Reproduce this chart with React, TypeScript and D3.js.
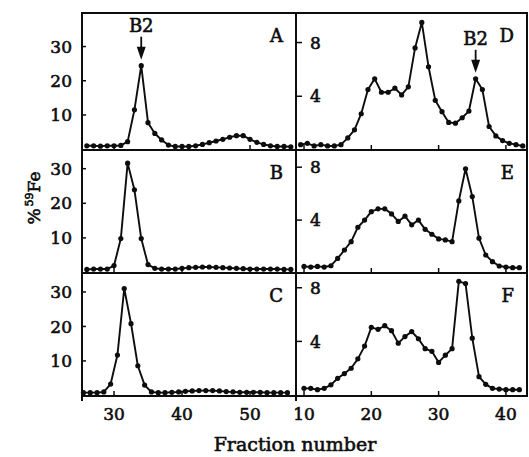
import React from 'react';
import * as d3 from 'd3';

// % 59Fe per fraction; each profile starts at the given fraction number
const startA = 26;
const valuesA = [1.0, 1.0, 0.9, 1.0, 1.0, 1.1, 2.2, 11.5, 24.4, 7.75, 4.6, 2.7, 1.2, 0.8, 0.8, 0.8,
  1.0, 1.4, 1.9, 2.4, 2.9, 3.5, 3.95, 3.95, 2.9, 2.0, 1.4, 1.0, 0.8, 0.8, 0.7];
const startB = 26;
const valuesB = [0.9, 1.0, 1.0, 1.0, 2.0, 9.8, 31.6, 23.9, 9.8, 2.3, 1.2, 1.0, 1.0, 1.0, 1.2, 1.4,
  1.5, 1.6, 1.6, 1.5, 1.4, 1.3, 1.2, 1.1, 1.0, 1.0, 1.0, 1.0, 1.0, 0.9, 0.9];
const startC = 25.5;
const valuesC = [0.8, 0.8, 0.8, 1.0, 3.3, 11.7, 31.0, 20.8, 8.6, 3.0, 1.0, 0.8, 0.8, 0.9, 1.0, 1.2,
  1.3, 1.4, 1.4, 1.4, 1.3, 1.1, 1.0, 0.9, 0.9, 0.9, 0.9, 0.8, 0.8, 0.8, 0.8];
const startD = 9.5;
const valuesD = [0.4, 0.5, 0.3, 0.4, 0.3, 0.3, 0.4, 0.9, 1.5, 2.7, 4.5, 5.3, 4.3, 4.3, 4.6, 4.1, 4.7,
  7.6, 9.5, 6.2, 3.7, 2.85, 2.05, 2.0, 2.4, 2.9, 5.3, 4.5, 1.75, 1.05, 0.7, 0.5, 0.4, 0.3];
const startE = 10;
const valuesE = [0.5, 0.45, 0.5, 0.45, 0.55, 1.1, 1.74, 2.37, 3.46, 4.0, 4.64, 4.85, 4.85, 4.47, 3.9,
  4.3, 3.64, 4.0, 3.3, 2.93, 2.58, 2.5, 2.37, 5.45, 7.88, 5.78, 2.63, 1.36, 0.86, 0.53, 0.45, 0.4, 0.4];
const startF = 10;
const valuesF = [0.5, 0.5, 0.4, 0.5, 0.76, 1.25, 1.6, 2.0, 2.7, 3.65, 5.05, 4.9, 5.17, 4.8, 3.87,
  4.36, 4.73, 4.2, 3.46, 3.26, 2.43, 2.97, 3.46, 8.48, 8.31, 4.24, 1.37, 0.8, 0.5, 0.45, 0.4, 0.4, 0.4];

const panelNames = ['A', 'B', 'C', 'D', 'E', 'F'];
const leftYTicks = [10, 20, 30];
const rightYTicks = [4, 8];
const leftXTicks = [30, 40, 50];
const rightXTicks = [10, 20, 30, 40];
const peakLabel = 'B2';
const xTitle = 'Fraction number';

const W = 529, H = 457;
const FONT = '"DejaVu Serif", serif';
const INK = '#0d0d0d';

class FractionChart extends React.Component {
  chartRef = React.createRef<HTMLDivElement>();

  componentDidMount() {
    const root = d3.select(this.chartRef.current);
    root.selectAll('*').remove();

    const svg = root.append('svg')
      .attr('width', W)
      .attr('height', H)
      .style('position', 'absolute')
      .style('left', '0px')
      .style('top', '0px')
      .style('background', '#fff');

    const cols = [82, 296, 527];
    const rows = [13, 150, 273, 396];

    const xLeft = d3.scaleLinear().domain([25.29, 56.76]).range([cols[0], cols[1]]);
    const xRight = d3.scaleLinear().domain([8.81, 43.13]).range([cols[1], cols[2]]);

    const panels = [
      { start: startA, values: valuesA, col: 0, row: 0, yDomain: [-0.23, 39.8], peak: 34 },
      { start: startB, values: valuesB, col: 0, row: 1, yDomain: [-0.14, 35.4] },
      { start: startC, values: valuesC, col: 0, row: 2, yDomain: [-0.17, 35.5] },
      { start: startD, values: valuesD, col: 1, row: 0, yDomain: [0, 10.2], peak: 35.5 },
      { start: startE, values: valuesE, col: 1, row: 1, yDomain: [0, 9.3] },
      { start: startF, values: valuesF, col: 1, row: 2, yDomain: [-0.07, 9.1] },
    ];

    // heavy print look: fill plus a thin stroke of the same ink
    const text = (sel, size) => sel
      .attr('font-family', FONT)
      .attr('font-size', size)
      .attr('fill', INK)
      .attr('stroke', INK)
      .attr('stroke-width', 0.6);

    panels.forEach((p, k) => {
      const x = p.col === 0 ? xLeft : xRight;
      const top = rows[p.row];
      const bottom = rows[p.row + 1];
      const y = d3.scaleLinear().domain(p.yDomain).range([bottom, top]);
      const pts = p.values.map((v, i) => [p.start + i, v]);
      const g = svg.append('g');

      g.append('path')
        .datum(pts)
        .attr('d', d3.line().x(d => x(d[0])).y(d => y(d[1])))
        .attr('fill', 'none')
        .attr('stroke', INK)
        .attr('stroke-width', 1.9)
        .attr('stroke-linejoin', 'round');

      g.selectAll('circle')
        .data(pts)
        .join('circle')
        .attr('cx', d => x(d[0]))
        .attr('cy', d => y(d[1]))
        .attr('r', 2.6)
        .attr('fill', INK);

      // y ticks
      const axisX = cols[p.col];
      const yTicks = p.col === 0 ? leftYTicks : rightYTicks;
      yTicks.forEach(t => {
        g.append('line')
          .attr('x1', axisX).attr('x2', axisX + (p.col === 0 ? 4 : 6))
          .attr('y1', y(t)).attr('y2', y(t))
          .attr('stroke', INK).attr('stroke-width', 1.5);
        g.append('text')
          .attr('x', p.col === 0 ? axisX - 10 : axisX + 14)
          .attr('y', y(t))
          .attr('dy', '0.36em')
          .attr('text-anchor', p.col === 0 ? 'end' : 'start')
          .text(t)
          .call(text, 17);
      });

      // x ticks along the bottom of each panel
      const xTicks = p.col === 0 ? leftXTicks : rightXTicks;
      xTicks.forEach(t => {
        g.append('line')
          .attr('x1', x(t)).attr('x2', x(t))
          .attr('y1', bottom).attr('y2', bottom - 5)
          .attr('stroke', INK).attr('stroke-width', 1.5);
      });

      g.append('text')
        .attr('x', p.col === 0 ? 283 : 514)
        .attr('y', top + 29)
        .attr('text-anchor', 'end')
        .text(panelNames[k])
        .call(text, 18);

      if (p.peak !== undefined) {
        const ax = x(p.peak);
        const tip = y(p.values[p.peak - p.start]) - 6;
        const base = tip - 28;
        g.append('text')
          .attr('x', ax)
          .attr('y', base)
          .attr('text-anchor', 'middle')
          .text(peakLabel)
          .call(text, 18);
        g.append('line')
          .attr('x1', ax).attr('x2', ax)
          .attr('y1', base + 5).attr('y2', tip - 10)
          .attr('stroke', INK).attr('stroke-width', 1.8);
        g.append('path')
          .attr('d', `M${ax - 4.5},${tip - 13}L${ax + 4.5},${tip - 13}L${ax},${tip}Z`)
          .attr('fill', INK);
      }
    });

    // frame
    const frame = svg.append('g').attr('stroke', INK).attr('stroke-width', 2).attr('fill', 'none');
    rows.forEach(r => {
      frame.append('line').attr('x1', cols[0] - 1).attr('x2', cols[2] + 1).attr('y1', r).attr('y2', r);
    });
    cols.forEach((c, i) => {
      frame.append('line').attr('x1', c).attr('x2', c)
        .attr('y1', rows[0]).attr('y2', i < 2 ? rows[3] + 5 : rows[3]);
    });

    // bottom tick labels
    leftXTicks.forEach(t => {
      svg.append('text').attr('x', xLeft(t)).attr('y', 420)
        .attr('text-anchor', 'middle').text(t).call(text, 17);
    });
    rightXTicks.forEach(t => {
      svg.append('text').attr('x', xRight(t)).attr('y', 420)
        .attr('text-anchor', 'middle').text(t).call(text, 17);
    });

    svg.append('text')
      .attr('x', 295).attr('y', 451)
      .attr('text-anchor', 'middle')
      .text(xTitle)
      .call(text, 19);

    const yTitle = svg.append('text')
      .attr('transform', 'translate(40,198) rotate(-90)')
      .attr('text-anchor', 'middle')
      .call(text, 17);
    yTitle.append('tspan').text('%');
    yTitle.append('tspan').attr('dx', 2).attr('dy', -7).attr('font-size', 11).text('59');
    yTitle.append('tspan').attr('dy', 7).text('Fe');
  }

  render() {
    return <div ref={this.chartRef} />;
  }
}

export default function App() {
  return <FractionChart />;
}
